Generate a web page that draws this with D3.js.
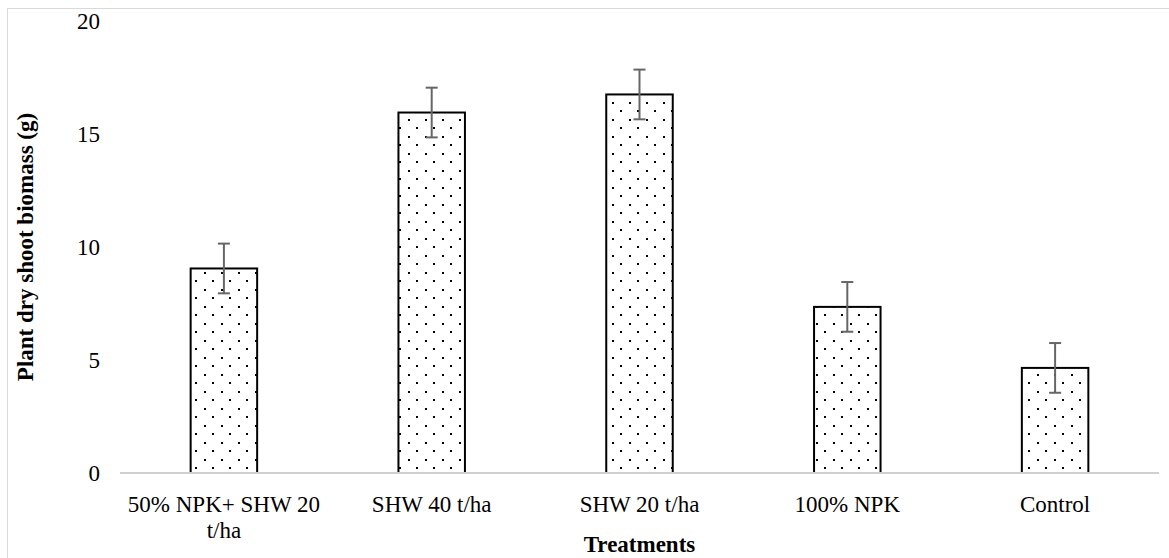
<!DOCTYPE html>
<html><head><meta charset="utf-8">
<script src="https://cdn.jsdelivr.net/npm/d3@7"></script>
<style>body{margin:0;background:#fff}svg{display:block}</style>
</head><body>
<script>
const categories = [["50% NPK+ SHW 20","t/ha"],["SHW 40 t/ha"],["SHW 20 t/ha"],["100% NPK"],["Control"]];
const values = [9.05, 15.95, 16.75, 7.35, 4.65];
const errors = [1.1, 1.1, 1.1, 1.1, 1.1];
const yTicks = [0, 5, 10, 15, 20];
const yTitle = "Plant dry shoot biomass (g)";
const xTitle = "Treatments";

(function(){
const W = 1169, H = 558;
const svg = d3.select("body").append("svg").attr("width", W).attr("height", H);

const defs = svg.append("defs");
const pat = defs.append("pattern").attr("id","dots").attr("patternUnits","userSpaceOnUse")
  .attr("width",17).attr("height",17);
pat.append("rect").attr("width",17).attr("height",17).attr("fill","#fff");
pat.append("rect").attr("x",0).attr("y",0).attr("width",2).attr("height",2).attr("fill","#000");
pat.append("rect").attr("x",8).attr("y",8).attr("width",2).attr("height",2).attr("fill","#000");

// chart border
svg.append("rect").attr("x",7.5).attr("y",8.5).attr("width",W).attr("height",H)
  .attr("fill","none").attr("stroke","#d9d9d9").attr("stroke-width",1);

const mLeft = 120, mRight = 1159, mTop = 21, mBottom = 473;
const x = d3.scaleBand().domain(d3.range(values.length)).range([mLeft, mRight])
  .paddingInner(0.68).paddingOuter(0.34);
const y = d3.scaleLinear().domain([0, 20]).range([mBottom, mTop]);

const font = "'Liberation Serif','Times New Roman',serif";

// y tick labels
svg.append("g").selectAll("text").data(yTicks).join("text")
  .attr("x", 100).attr("y", d => y(d)).attr("dy","0.35em")
  .attr("text-anchor","end").attr("font-family",font).attr("font-size",23)
  .attr("fill","#000").text(d => d);

// bars
svg.append("g").selectAll("rect").data(values).join("rect")
  .attr("x", (d,i) => x(i)).attr("y", d => y(d))
  .attr("width", x.bandwidth()).attr("height", d => y(0) - y(d))
  .attr("fill","url(#dots)").attr("stroke","#000").attr("stroke-width",2);

// axis line
svg.append("line").attr("x1",mLeft).attr("x2",mRight).attr("y1",mBottom).attr("y2",mBottom)
  .attr("stroke","#d0d0d0").attr("stroke-width",2);

// error bars
const eg = svg.append("g").attr("stroke","#666").attr("stroke-width",2);
values.forEach((v,i) => {
  const cx = x(i) + x.bandwidth()/2;
  const e = errors[i];
  eg.append("line").attr("x1",cx).attr("x2",cx).attr("y1",y(v+e)).attr("y2",y(v-e));
  eg.append("line").attr("x1",cx-6).attr("x2",cx+6).attr("y1",y(v+e)).attr("y2",y(v+e));
  eg.append("line").attr("x1",cx-6).attr("x2",cx+6).attr("y1",y(v-e)).attr("y2",y(v-e));
});

// category labels
const cg = svg.append("g");
categories.forEach((lines,i) => {
  const cx = x(i) + x.bandwidth()/2;
  const t = cg.append("text").attr("text-anchor","middle").attr("font-family",font)
    .attr("font-size",23).attr("fill","#000");
  lines.forEach((ln,j) => {
    t.append("tspan").attr("x",cx).attr("y",512 + j*26).text(ln);
  });
});

// axis titles
svg.append("text").attr("x",(mLeft+mRight)/2).attr("y",552).attr("text-anchor","middle")
  .attr("font-family",font).attr("font-size",23).attr("font-weight","bold").text(xTitle);
svg.append("text").attr("transform",`translate(33,${(mTop+mBottom)/2}) rotate(-90)`)
  .attr("text-anchor","middle").attr("font-family",font).attr("font-size",23)
  .attr("font-weight","bold").text(yTitle);
})();
</script>
</body></html>
